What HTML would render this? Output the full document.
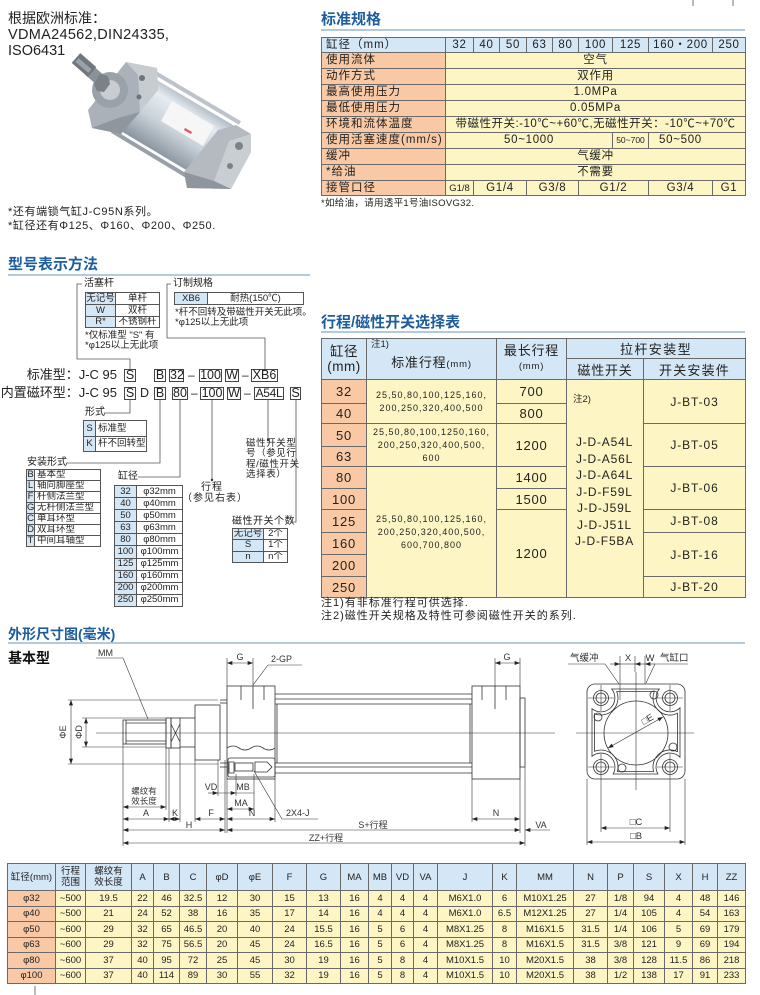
<!DOCTYPE html>
<html><head><meta charset="utf-8"><style>
*{margin:0;padding:0;box-sizing:border-box}
html,body{width:760px;height:995px;overflow:hidden;background:#fff}
body{position:relative;font-family:"Liberation Sans","Noto Sans CJK SC",sans-serif;color:#222}
.a{position:absolute;white-space:nowrap}
.tt{position:absolute;white-space:nowrap;font-size:15px;line-height:16px;font-weight:bold;color:#1d5d9c}
.ul{position:absolute;height:2px;background:#b3c9de}
table{border-collapse:collapse;table-layout:fixed;position:absolute}
td{border:1px solid #6a6a6a;text-align:center;vertical-align:middle;padding:0;overflow:hidden;white-space:nowrap}
.s{background:#f8c9a4}.b{background:#d4e7f7}.y{background:#fdf6c4}.w{background:#fff}
.bx{position:absolute;border:1px solid #444;text-align:center;font-size:12.5px;line-height:11px;height:13px;background:#fff}
.sp td{font-size:11.5px;letter-spacing:0.7px;line-height:13px}
.sp td.l{text-align:left;padding-left:4px;letter-spacing:1px}
.sm td{font-size:9.5px;line-height:10px;border-color:#555}
.st td{font-size:13px;letter-spacing:0.8px}
.st td.n{font-size:9px;line-height:13px;letter-spacing:1px}
.bt td{font-size:9.5px;line-height:11px}
svg{position:absolute;left:0;top:0}
</style></head><body>

<!-- top left -->
<div class="a" style="left:8px;top:10px;font-size:14px;line-height:16px">根据欧洲标准：</div>
<div class="a" style="left:8px;top:27px;font-size:14.5px;line-height:16px;letter-spacing:0.3px">VDMA24562,DIN24335,</div>
<div class="a" style="left:8px;top:43px;font-size:14.5px;line-height:16px">ISO6431</div>
<div class="a" style="left:8px;top:206px;font-size:11px;line-height:12px;letter-spacing:0.6px">*还有端锁气缸J-C95N系列。</div>
<div class="a" style="left:8px;top:220px;font-size:11px;line-height:12px;letter-spacing:0.6px">*缸径还有Φ125、Φ160、Φ200、Φ250.</div>

<!-- spec -->
<div class="tt" style="left:321px;top:12px">标准规格</div>
<div class="ul" style="left:321px;top:29px;width:424px"></div>
<table class="sp" style="left:321px;top:37px;width:424px">
<colgroup><col style="width:124px"><col style="width:28px"><col style="width:26px"><col style="width:27px"><col style="width:26px"><col style="width:26px"><col style="width:34px"><col style="width:36px"><col style="width:64px"><col style="width:33px"></colgroup>
<tr style="height:15px" class="b"><td class="l">缸径（mm）</td><td>32</td><td>40</td><td>50</td><td>63</td><td>80</td><td>100</td><td>125</td><td>160・200</td><td>250</td></tr>
<tr style="height:16px"><td class="l s">使用流体</td><td colspan="9" class="y">空气</td></tr>
<tr style="height:16px"><td class="l s">动作方式</td><td colspan="9" class="y">双作用</td></tr>
<tr style="height:16px"><td class="l s">最高使用压力</td><td colspan="9" class="y">1.0MPa</td></tr>
<tr style="height:16px"><td class="l s">最低使用压力</td><td colspan="9" class="y">0.05MPa</td></tr>
<tr style="height:16px"><td class="l s">环境和流体温度</td><td colspan="9" class="y" style="letter-spacing:0.5px">带磁性开关:-10℃~+60℃,无磁性开关：-10℃~+70℃</td></tr>
<tr style="height:16px"><td class="l s">使用活塞速度(mm/s)</td><td colspan="6" class="y">50~1000</td><td class="y" style="font-size:8.5px;letter-spacing:0">50~700</td><td colspan="2" class="y" style="text-align:left;padding-left:10px">50~500</td></tr>
<tr style="height:16px"><td class="l s">缓冲</td><td colspan="9" class="y">气缓冲</td></tr>
<tr style="height:16px"><td class="l s">*给油</td><td colspan="9" class="y">不需要</td></tr>
<tr style="height:15px"><td class="l s">接管口径</td><td class="y" style="font-size:9.5px;letter-spacing:0">G1/8</td><td colspan="2" class="y">G1/4</td><td colspan="2" class="y">G3/8</td><td colspan="2" class="y">G1/2</td><td class="y">G3/4</td><td class="y">G1</td></tr>
</table>
<div class="a" style="left:321px;top:198px;font-size:9.5px;line-height:11px;letter-spacing:0.3px">*如给油，请用透平1号油ISOVG32.</div>

<!-- model notation -->
<div class="tt" style="left:8px;top:257px">型号表示方法</div>
<div class="ul" style="left:8px;top:274px;width:302px"></div>

<div class="a" style="left:84px;top:278px;font-size:10px;line-height:12px">活塞杆</div>
<table class="sm" style="left:85px;top:292px;width:74px">
<colgroup><col style="width:30px"><col style="width:44px"></colgroup>
<tr style="height:12px"><td class="b">无记号</td><td class="w">单杆</td></tr>
<tr style="height:12px"><td class="b">W</td><td class="w">双杆</td></tr>
<tr style="height:11px"><td class="b">R*</td><td class="w">不锈钢杆</td></tr>
</table>
<div class="a" style="left:85px;top:331px;font-size:9.5px;line-height:10px">*仅标准型 "S" 有</div>
<div class="a" style="left:85px;top:341px;font-size:9.5px;line-height:10px">*φ125以上无此项</div>

<div class="a" style="left:173px;top:278px;font-size:10px;line-height:12px">订制规格</div>
<table class="sm" style="left:174px;top:292px;width:129px">
<colgroup><col style="width:33px"><col style="width:96px"></colgroup>
<tr style="height:12px"><td class="b">XB6</td><td class="w">耐热(150℃)</td></tr>
</table>
<div class="a" style="left:175px;top:308px;font-size:9.5px;line-height:10px">*杆不回转及带磁性开关无此项。</div>
<div class="a" style="left:175px;top:318px;font-size:9.5px;line-height:10px">*φ125以上无此项</div>

<div class="a" style="left:0;width:117px;text-align:right;top:368px;font-size:13px;line-height:14px">标准型：J-C 95</div>
<div class="bx" style="left:124px;top:369px;width:12px">S</div>
<div class="bx" style="left:154px;top:369px;width:12px">B</div>
<div class="bx" style="left:169px;top:369px;width:15px">32</div>
<div class="a" style="left:188px;top:368px;font-size:12px;line-height:14px">–</div>
<div class="bx" style="left:199px;top:369px;width:23px">100</div>
<div class="bx" style="left:225px;top:369px;width:14px">W</div>
<div class="a" style="left:242px;top:368px;font-size:12px;line-height:14px">–</div>
<div class="bx" style="left:251px;top:369px;width:27px">XB6</div>

<div class="a" style="left:0;width:117px;text-align:right;top:386px;font-size:13px;line-height:14px">内置磁环型：J-C 95</div>
<div class="bx" style="left:124px;top:387px;width:12px">S</div>
<div class="a" style="left:140px;top:386px;font-size:12.5px;line-height:14px">D</div>
<div class="bx" style="left:154px;top:387px;width:12px">B</div>
<div class="bx" style="left:172px;top:387px;width:16px">80</div>
<div class="a" style="left:191px;top:386px;font-size:12px;line-height:14px">–</div>
<div class="bx" style="left:200px;top:387px;width:24px">100</div>
<div class="bx" style="left:227px;top:387px;width:14px">W</div>
<div class="a" style="left:244px;top:386px;font-size:12px;line-height:14px">–</div>
<div class="bx" style="left:254px;top:387px;width:30px;font-size:12px;letter-spacing:-0.3px">A54L</div>
<div class="bx" style="left:290px;top:387px;width:11px">S</div>

<div class="a" style="left:85px;top:407px;font-size:10px;line-height:12px">形式</div>
<table class="sm" style="left:83px;top:420px;width:63px">
<colgroup><col style="width:12px"><col style="width:51px"></colgroup>
<tr style="height:16px"><td class="b">S</td><td class="w" style="text-align:left;padding-left:2px">标准型</td></tr>
<tr style="height:15px"><td class="b">K</td><td class="w" style="text-align:left;padding-left:2px">杆不回转型</td></tr>
</table>

<div class="a" style="left:27px;top:457px;font-size:10px;line-height:12px">安装形式</div>
<table class="sm" style="left:26px;top:469px;width:74px">
<colgroup><col style="width:8px"><col style="width:66px"></colgroup>
<tr style="height:10.6px"><td class="b">B</td><td class="w" style="text-align:left;padding-left:2px">基本型</td></tr>
<tr style="height:10.6px"><td class="b">L</td><td class="w" style="text-align:left;padding-left:2px">轴向脚座型</td></tr>
<tr style="height:10.6px"><td class="b">F</td><td class="w" style="text-align:left;padding-left:2px">杆侧法兰型</td></tr>
<tr style="height:10.6px"><td class="b">G</td><td class="w" style="text-align:left;padding-left:2px">无杆侧法兰型</td></tr>
<tr style="height:10.6px"><td class="b">C</td><td class="w" style="text-align:left;padding-left:2px">单耳环型</td></tr>
<tr style="height:10.6px"><td class="b">D</td><td class="w" style="text-align:left;padding-left:2px">双耳环型</td></tr>
<tr style="height:10.6px"><td class="b">T</td><td class="w" style="text-align:left;padding-left:2px">中间耳轴型</td></tr>
</table>

<div class="a" style="left:118px;top:471px;font-size:10px;line-height:12px">缸径</div>
<table class="sm" style="left:114px;top:485px;width:68px">
<colgroup><col style="width:22px"><col style="width:46px"></colgroup>
<tr style="height:12.1px"><td class="b">32</td><td class="w">φ32mm</td></tr>
<tr style="height:12.1px"><td class="b">40</td><td class="w">φ40mm</td></tr>
<tr style="height:12.1px"><td class="b">50</td><td class="w">φ50mm</td></tr>
<tr style="height:12.1px"><td class="b">63</td><td class="w">φ63mm</td></tr>
<tr style="height:12.1px"><td class="b">80</td><td class="w">φ80mm</td></tr>
<tr style="height:12.1px"><td class="b">100</td><td class="w">φ100mm</td></tr>
<tr style="height:12.1px"><td class="b">125</td><td class="w">φ125mm</td></tr>
<tr style="height:12.1px"><td class="b">160</td><td class="w">φ160mm</td></tr>
<tr style="height:12.1px"><td class="b">200</td><td class="w">φ200mm</td></tr>
<tr style="height:12.1px"><td class="b">250</td><td class="w">φ250mm</td></tr>
</table>

<div class="a" style="left:192px;top:482px;width:40px;text-align:center;font-size:10px;line-height:12px;letter-spacing:1px">行程</div>
<div class="a" style="left:182px;top:493px;width:60px;text-align:center;font-size:10px;line-height:12px;letter-spacing:1px">（参见右表）</div>

<div class="a" style="left:246px;top:439px;font-size:9.5px;line-height:10.3px;letter-spacing:0.6px">磁性开关型<br>号（参见行<br>程/磁性开关<br>选择表）</div>

<div class="a" style="left:232px;top:516px;font-size:10px;line-height:12px;letter-spacing:0.5px">磁性开关个数</div>
<table class="sm" style="left:232px;top:528px;width:55px">
<colgroup><col style="width:31px"><col style="width:24px"></colgroup>
<tr style="height:11.3px"><td class="b">无记号</td><td class="w">2个</td></tr>
<tr style="height:11.3px"><td class="b">S</td><td class="w">1个</td></tr>
<tr style="height:11.3px"><td class="b">n</td><td class="w">n个</td></tr>
</table>

<!-- stroke table -->
<div class="tt" style="left:321px;top:315px">行程/磁性开关选择表</div>
<div class="ul" style="left:321px;top:331px;width:424px"></div>
<table class="st" style="left:321px;top:338px;width:424px">
<colgroup><col style="width:45px"><col style="width:130px"><col style="width:70px"><col style="width:77px"><col style="width:102px"></colgroup>
<tr style="height:20px" class="b"><td rowspan="2" style="font-size:13.5px;line-height:15px;letter-spacing:0.5px">缸径<br>(mm)</td><td rowspan="2" style="padding-top:4px">标准行程<span style="font-size:9.5px">(mm)</span></td><td rowspan="2" style="line-height:14px">最长行程<br><span style="font-size:9.5px">(mm)</span></td><td colspan="2" style="letter-spacing:1.4px">拉杆安装型</td></tr>
<tr style="height:21px" class="b"><td>磁性开关</td><td style="letter-spacing:1.2px">开关安装件</td></tr>
<tr style="height:24px"><td class="s">32</td><td rowspan="2" class="y n">25,50,80,100,125,160,<br>200,250,320,400,500</td><td class="y">700</td><td rowspan="10" class="y"></td><td rowspan="2" class="y" style="font-size:12px;letter-spacing:0.9px">J-BT-03</td></tr>
<tr style="height:20px"><td class="s">40</td><td class="y">800</td></tr>
<tr style="height:23px"><td class="s">50</td><td rowspan="2" class="y n">25,50,80,100,1250,160,<br>200,250,320,400,500,<br>600</td><td rowspan="2" class="y">1200</td><td rowspan="2" class="y" style="font-size:12px;letter-spacing:0.9px">J-BT-05</td></tr>
<tr style="height:20px"><td class="s">63</td></tr>
<tr style="height:22px"><td class="s">80</td><td rowspan="6" class="y n">25,50,80,100,125,160,<br>200,250,320,400,500,<br>600,700,800</td><td class="y">1400</td><td rowspan="2" class="y" style="font-size:12px;letter-spacing:0.9px">J-BT-06</td></tr>
<tr style="height:21px"><td class="s">100</td><td class="y">1500</td></tr>
<tr style="height:23px"><td class="s">125</td><td rowspan="4" class="y">1200</td><td class="y" style="font-size:12px;letter-spacing:0.9px">J-BT-08</td></tr>
<tr style="height:22px"><td class="s">160</td><td rowspan="2" class="y" style="font-size:12px;letter-spacing:0.9px">J-BT-16</td></tr>
<tr style="height:22px"><td class="s">200</td></tr>
<tr style="height:21px"><td class="s">250</td><td class="y" style="font-size:12px;letter-spacing:0.9px">J-BT-20</td></tr>
</table>
<div class="a" style="left:371px;top:340px;font-size:9.5px;line-height:10px">注1)</div>
<div class="a" style="left:573px;top:395px;font-size:9.5px;line-height:10px">注2)</div>
<div class="a" style="left:566px;top:434px;width:77px;text-align:center;font-size:12px;line-height:16.5px;letter-spacing:0.8px">J-D-A54L<br>J-D-A56L<br>J-D-A64L<br>J-D-F59L<br>J-D-J59L<br>J-D-J51L<br>J-D-F5BA</div>
<div class="a" style="left:321px;top:597px;font-size:11px;line-height:12px;letter-spacing:1px">注1)有非标准行程可供选择.</div>
<div class="a" style="left:321px;top:610px;font-size:11px;line-height:12px;letter-spacing:1px">注2)磁性开关规格及特性可参阅磁性开关的系列.</div>

<!-- dimension section -->
<div class="tt" style="left:8px;top:626px;font-size:14px">外形尺寸图(毫米)</div>
<div class="ul" style="left:8px;top:642px;width:737px"></div>
<div class="a" style="left:8px;top:650px;font-size:14px;line-height:16px;font-weight:bold;color:#111">基本型</div>

<table class="bt" style="left:7px;top:863px;width:738px">
<colgroup><col style="width:48px"><col style="width:30px"><col style="width:46px"><col style="width:22px"><col style="width:26px"><col style="width:27px"><col style="width:31px"><col style="width:35px"><col style="width:34px"><col style="width:34px"><col style="width:28px"><col style="width:23px"><col style="width:22px"><col style="width:24px"><col style="width:55px"><col style="width:24px"><col style="width:57px"><col style="width:34px"><col style="width:26px"><col style="width:31px"><col style="width:28px"><col style="width:25px"><col style="width:28px"></colgroup>
<tr style="height:27px" class="b"><td>缸径(mm)</td><td>行程<br>范围</td><td>螺纹有<br>效长度</td><td>A</td><td>B</td><td>C</td><td>φD</td><td>φE</td><td>F</td><td>G</td><td>MA</td><td>MB</td><td>VD</td><td>VA</td><td>J</td><td>K</td><td>MM</td><td>N</td><td>P</td><td>S</td><td>X</td><td>H</td><td>ZZ</td></tr>
<tr style="height:15.5px" class="y"><td class="s">φ32</td><td>~500</td><td>19.5</td><td>22</td><td>46</td><td>32.5</td><td>12</td><td>30</td><td>15</td><td>13</td><td>16</td><td>4</td><td>4</td><td>4</td><td>M6X1.0</td><td>6</td><td>M10X1.25</td><td>27</td><td>1/8</td><td>94</td><td>4</td><td>48</td><td>146</td></tr>
<tr style="height:15.5px" class="y"><td class="s">φ40</td><td>~500</td><td>21</td><td>24</td><td>52</td><td>38</td><td>16</td><td>35</td><td>17</td><td>14</td><td>16</td><td>4</td><td>4</td><td>4</td><td>M6X1.0</td><td>6.5</td><td>M12X1.25</td><td>27</td><td>1/4</td><td>105</td><td>4</td><td>54</td><td>163</td></tr>
<tr style="height:15.5px" class="y"><td class="s">φ50</td><td>~600</td><td>29</td><td>32</td><td>65</td><td>46.5</td><td>20</td><td>40</td><td>24</td><td>15.5</td><td>16</td><td>5</td><td>6</td><td>4</td><td>M8X1.25</td><td>8</td><td>M16X1.5</td><td>31.5</td><td>1/4</td><td>106</td><td>5</td><td>69</td><td>179</td></tr>
<tr style="height:15.5px" class="y"><td class="s">φ63</td><td>~600</td><td>29</td><td>32</td><td>75</td><td>56.5</td><td>20</td><td>45</td><td>24</td><td>16.5</td><td>16</td><td>5</td><td>6</td><td>4</td><td>M8X1.25</td><td>8</td><td>M16X1.5</td><td>31.5</td><td>3/8</td><td>121</td><td>9</td><td>69</td><td>194</td></tr>
<tr style="height:15.5px" class="y"><td class="s">φ80</td><td>~600</td><td>37</td><td>40</td><td>95</td><td>72</td><td>25</td><td>45</td><td>30</td><td>19</td><td>16</td><td>5</td><td>8</td><td>4</td><td>M10X1.5</td><td>10</td><td>M20X1.5</td><td>38</td><td>3/8</td><td>128</td><td>11.5</td><td>86</td><td>218</td></tr>
<tr style="height:15.5px" class="y"><td class="s">φ100</td><td>~600</td><td>37</td><td>40</td><td>114</td><td>89</td><td>30</td><td>55</td><td>32</td><td>19</td><td>16</td><td>5</td><td>8</td><td>4</td><td>M10X1.5</td><td>10</td><td>M20X1.5</td><td>38</td><td>1/2</td><td>138</td><td>17</td><td>91</td><td>233</td></tr>
</table>

<svg width="760" height="995" viewBox="0 0 760 995" font-family="Liberation Sans, Noto Sans CJK SC, sans-serif">
<defs>
<linearGradient id="tg" gradientUnits="userSpaceOnUse" x1="196" y1="98" x2="160" y2="154">
<stop offset="0" stop-color="#a7b1bb"/><stop offset="0.25" stop-color="#e6ecf1"/><stop offset="0.6" stop-color="#cbd3da"/><stop offset="1" stop-color="#8d98a3"/>
</linearGradient>
<marker id="ar" viewBox="0 0 8 6" refX="8" refY="3" markerUnits="userSpaceOnUse" markerWidth="6" markerHeight="4" orient="auto-start-reverse"><path d="M0 0L8 3L0 6z" fill="#222"/></marker>
</defs>

<line x1="693" y1="0" x2="693" y2="6" stroke="#777" stroke-width="1"/>
<line x1="733" y1="0" x2="733" y2="6" stroke="#777" stroke-width="1"/>

<!-- cylinder picture -->
<polygon points="150,76 238,128 208,183 116,128" fill="url(#tg)"/>
<line x1="152" y1="71" x2="240" y2="123" stroke="#bcc3ca" stroke-width="4"/>
<line x1="112" y1="131" x2="200" y2="184" stroke="#98a1a9" stroke-width="4"/>
<polygon points="172,101 214,126 203,146 161,121" fill="#f6f6f6"/>
<polygon points="185,128 192,132 191,134 184,130" fill="#d55"/>
<polygon points="184,172 218,130 236,125 251,134 251,152 231,189 187,188" fill="#b4bac0"/>
<polygon points="229,141 251,134 251,152 231,189 214,181" fill="#c9ced3"/>
<polygon points="184,172 214,181 231,189 187,188" fill="#8e959c"/>
<circle cx="239" cy="146" r="4" fill="#7b8289"/>
<circle cx="230" cy="166" r="3" fill="#7b8289"/>
<polygon points="88,110 126,62 157,68 158,90 121,134 92,128" fill="#aab1b8"/>
<polygon points="126,62 157,68 158,90 140,112 138,75" fill="#c7ccd1"/>
<polygon points="92,128 121,134 140,112 118,118" fill="#8f969d"/>
<circle cx="110" cy="90" r="18" fill="#9aa2a9"/>
<circle cx="110" cy="90" r="10" fill="#c8cdd2"/>
<circle cx="142" cy="78" r="3" fill="#6d747b"/>
<circle cx="139" cy="97" r="2.5" fill="#6d747b"/>
<line x1="90" y1="71" x2="106" y2="85" stroke="#8a9198" stroke-width="12"/>
<polygon points="94,84 100,74 108,76 110,84 104,92 97,91" fill="#7a8187"/>
<line x1="76" y1="58" x2="92" y2="72" stroke="#6f767d" stroke-width="13"/>
<line x1="77" y1="60" x2="90" y2="71" stroke="#9aa1a7" stroke-width="5"/>

<!-- notation connector lines -->
<g stroke="#555" stroke-width="0.8" fill="none">
<path d="M82 284 H77 V359 H130 V369"/>
<path d="M171 284 H167 V338 H265 V369"/>
<path d="M130 400 V413 H104"/>
<path d="M160 400 V463 H66"/>
<path d="M180 400 V477 H138"/>
<path d="M212 400 V480"/>
<path d="M268 400 V440"/>
<path d="M296 400 V522 H290"/>
</g>
<circle cx="212" cy="480" r="1.2" fill="#333"/>
<circle cx="268" cy="440" r="1.2" fill="#333"/>

<!-- side view drawing -->
<g stroke="#333" stroke-width="0.8" fill="none">
<line x1="96" y1="733" x2="555" y2="733" stroke-width="0.6"/>
<rect x="123" y="720" width="43" height="24"/>
<line x1="126" y1="723" x2="166" y2="723"/>
<line x1="126" y1="741" x2="166" y2="741"/>
<line x1="126" y1="720" x2="126" y2="744"/>
<rect x="166" y="718" width="5" height="30"/>
<rect x="171" y="718" width="9" height="30"/>
<line x1="171" y1="724" x2="180" y2="742"/>
<line x1="171" y1="742" x2="180" y2="724"/>
<line x1="180" y1="718" x2="195" y2="718"/>
<line x1="180" y1="747" x2="195" y2="747"/>
<rect x="195" y="705" width="25" height="55"/>
<line x1="220" y1="700" x2="227" y2="700"/>
<line x1="220" y1="703" x2="227" y2="703"/>
<line x1="220" y1="763" x2="227" y2="763"/>
<line x1="220" y1="767" x2="227" y2="767"/>
<rect x="227" y="686" width="48" height="93"/>
<path d="M227 748 q6 -4 12 0 t12 0 t12 0 t12 0"/>
<line x1="241" y1="686" x2="241" y2="700"/>
<line x1="253" y1="686" x2="253" y2="709"/>
<line x1="264" y1="686" x2="264" y2="700"/>
<rect x="228" y="758" width="47" height="19" rx="2"/>
<rect x="235" y="763" width="18" height="8"/>
<path d="M229 762 h5 v11 h-5 z"/>
<path d="M255 762 h12 l5 5 l-5 5 h-12 z"/>
<line x1="275" y1="694" x2="472" y2="694"/>
<line x1="275" y1="699" x2="472" y2="699"/>
<line x1="275" y1="704" x2="472" y2="704"/>
<line x1="275" y1="763" x2="472" y2="763"/>
<line x1="275" y1="767" x2="472" y2="767"/>
<line x1="275" y1="773" x2="472" y2="773"/>
<line x1="277" y1="704" x2="277" y2="763"/>
<line x1="470" y1="704" x2="470" y2="763"/>
<rect x="472" y="686" width="48" height="93"/>
<line x1="482" y1="686" x2="482" y2="700"/>
<line x1="495" y1="686" x2="495" y2="709"/>
<line x1="506" y1="686" x2="506" y2="700"/>
<rect x="520" y="698" width="5" height="69"/>
<!-- extension lines -->
<g stroke-width="0.6">
<line x1="68" y1="700" x2="218" y2="700"/>
<line x1="68" y1="764" x2="218" y2="764"/>
<line x1="82" y1="718" x2="166" y2="718"/>
<line x1="82" y1="747" x2="166" y2="747"/>
<line x1="227" y1="658" x2="227" y2="686"/>
<line x1="253" y1="658" x2="253" y2="686"/>
<line x1="495" y1="658" x2="495" y2="686"/>
<line x1="520" y1="658" x2="520" y2="686"/>
<line x1="123" y1="744" x2="123" y2="846"/>
<line x1="166" y1="748" x2="166" y2="810"/>
<line x1="169" y1="748" x2="169" y2="822"/>
<line x1="180" y1="748" x2="180" y2="822"/>
<line x1="195" y1="760" x2="195" y2="822"/>
<line x1="225" y1="760" x2="225" y2="833"/>
<line x1="227" y1="779" x2="227" y2="833"/>
<line x1="218" y1="760" x2="218" y2="796"/>
<line x1="236" y1="774" x2="236" y2="796"/>
<line x1="254" y1="774" x2="254" y2="812"/>
<line x1="275" y1="779" x2="275" y2="822"/>
<line x1="472" y1="779" x2="472" y2="822"/>
<line x1="520" y1="779" x2="520" y2="833"/>
<line x1="525" y1="767" x2="525" y2="846"/>
<path d="M96 658 H123 L148 719"/>
<path d="M302 665 H268 L253 685"/>
<path d="M318 819 H282 L254 771"/>
</g>
</g>
<g stroke="#333" stroke-width="0.6" fill="none" marker-start="url(#ar)" marker-end="url(#ar)">
<line x1="71" y1="700" x2="71" y2="764"/>
<line x1="86" y1="718" x2="86" y2="747"/>
<line x1="227" y1="663" x2="253" y2="663"/>
<line x1="495" y1="663" x2="520" y2="663"/>
<line x1="123" y1="807" x2="166" y2="807"/>
<line x1="123" y1="819" x2="169" y2="819"/>
<line x1="169" y1="819" x2="180" y2="819"/>
<line x1="195" y1="819" x2="225" y2="819"/>
<line x1="227" y1="819" x2="275" y2="819"/>
<line x1="227" y1="809" x2="254" y2="809"/>
<line x1="472" y1="819" x2="520" y2="819"/>
<line x1="123" y1="830" x2="225" y2="830"/>
<line x1="227" y1="830" x2="520" y2="830"/>
<line x1="123" y1="843" x2="525" y2="843"/>
</g>
<g stroke="#333" stroke-width="0.6" fill="none">
<line x1="208" y1="793" x2="218" y2="793" marker-end="url(#ar)"/>
<line x1="218" y1="793" x2="236" y2="793" marker-end="url(#ar)"/>
<line x1="236" y1="793" x2="254" y2="793"/>
<line x1="550" y1="830" x2="525" y2="830" marker-end="url(#ar)"/>
</g>
<g font-size="9" fill="#333" text-anchor="middle">
<text x="98" y="656" text-anchor="start">MM</text>
<text x="240" y="660">G</text>
<text x="271" y="662" text-anchor="start">2-GP</text>
<text x="507" y="660">G</text>
<text transform="translate(66,732) rotate(-90)">ΦE</text>
<text transform="translate(82,732) rotate(-90)">ΦD</text>
<text x="144" y="794" font-size="8.5">螺纹有</text>
<text x="144" y="804" font-size="8.5">效长度</text>
<text x="146" y="816">A</text>
<text x="175" y="816">K</text>
<text x="211" y="816">F</text>
<text x="252" y="816">N</text>
<text x="496" y="816">N</text>
<text x="241" y="806">MA</text>
<text x="211" y="790">VD</text>
<text x="243" y="790">MB</text>
<text x="286" y="816" text-anchor="start">2X4-J</text>
<text x="189" y="828">H</text>
<text x="373" y="828">S+行程</text>
<text x="541" y="828">VA</text>
<text x="326" y="841">ZZ+行程</text>
</g>

<!-- end view -->
<g stroke="#333" stroke-width="0.8" fill="none">
<rect x="587" y="684" width="98" height="95" rx="8"/>
<path d="M611.7 689 H659.3 A14 14 0 0 0 680 707.8 V757.2 A14 14 0 0 0 657.9 774 H613.1 A14 14 0 0 0 592 756.3 V708.7 A14 14 0 0 0 611.7 689 Z"/>
<path d="M616.7 691.5 H654.3 A17 17 0 0 0 677.5 713.3 V751.7 A17 17 0 0 0 653.6 771.5 H617.4 A17 17 0 0 0 594.5 751.3 V713.7 A17 17 0 0 0 616.7 691.5 Z"/>
<circle cx="636" cy="733" r="32"/>
<circle cx="601" cy="698" r="7.5"/><circle cx="601" cy="698" r="5"/>
<circle cx="670" cy="698" r="7.5"/><circle cx="670" cy="698" r="5"/>
<circle cx="601" cy="767" r="7.5"/><circle cx="601" cy="767" r="5"/>
<circle cx="670" cy="767" r="7.5"/><circle cx="670" cy="767" r="5"/>
<circle cx="598" cy="717" r="4"/>
<circle cx="654" cy="695" r="4"/>
<circle cx="673" cy="747" r="4"/>
<circle cx="622" cy="768" r="4"/>
<g stroke-width="0.6">
<line x1="576" y1="733" x2="694" y2="733"/>
<line x1="636" y1="672" x2="636" y2="790"/>
<line x1="588" y1="698" x2="614" y2="698"/><line x1="601" y1="685" x2="601" y2="711"/>
<line x1="657" y1="698" x2="683" y2="698"/><line x1="670" y1="685" x2="670" y2="711"/>
<line x1="588" y1="767" x2="614" y2="767"/><line x1="601" y1="754" x2="601" y2="832"/>
<line x1="657" y1="767" x2="683" y2="767"/><line x1="670" y1="754" x2="670" y2="832"/>
<line x1="587" y1="779" x2="587" y2="845"/>
<line x1="685" y1="779" x2="685" y2="845"/>
<line x1="620" y1="656" x2="620" y2="700"/>
<line x1="635" y1="656" x2="635" y2="672"/>
<line x1="645" y1="656" x2="645" y2="684"/>
<path d="M568 664 H605 L619 684"/>
<path d="M688 664 H655 L646 683"/>
</g>
</g>
<g stroke="#333" stroke-width="0.6" fill="none">
<line x1="608" y1="748" x2="663" y2="717" marker-start="url(#ar)" marker-end="url(#ar)"/>
<line x1="601" y1="828" x2="670" y2="828" marker-start="url(#ar)" marker-end="url(#ar)"/>
<line x1="587" y1="842" x2="685" y2="842" marker-start="url(#ar)" marker-end="url(#ar)"/>
<line x1="610" y1="664" x2="620" y2="664" marker-end="url(#ar)"/>
<line x1="645" y1="664" x2="635" y2="664" marker-end="url(#ar)"/>
<line x1="620" y1="664" x2="635" y2="664"/>
<line x1="655" y1="664" x2="645" y2="664" marker-end="url(#ar)"/>
</g>
<g font-size="9.5" fill="#333" text-anchor="middle">
<text x="570" y="661" text-anchor="start">气缓冲</text>
<text x="628" y="661">X</text>
<text x="650" y="661">W</text>
<text x="660" y="661" text-anchor="start">气缸口</text>
<text transform="translate(649,722) rotate(-30)">□E</text>
<text x="636" y="825">□C</text>
<text x="636" y="839">□B</text>
</g>
<line x1="35" y1="986" x2="35" y2="995" stroke="#555" stroke-width="0.8"/>
</svg>
</body></html>
